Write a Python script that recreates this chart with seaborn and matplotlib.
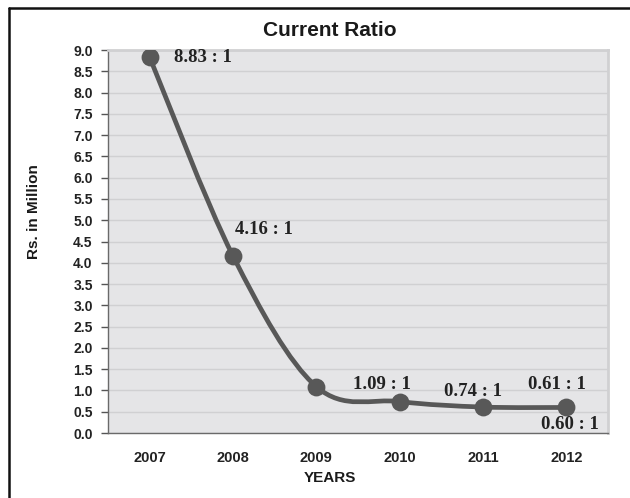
import matplotlib
matplotlib.use("Agg")
import matplotlib.pyplot as plt
from matplotlib.path import Path
from matplotlib.patches import PathPatch
from matplotlib.lines import Line2D
import seaborn as sns
import pandas as pd
import numpy as np

# Current ratio by year
years = ["2007", "2008", "2009", "2010", "2011", "2012"]
ratios = [8.83, 4.16, 1.09, 0.74, 0.61, 0.60]
labels = ["8.83 : 1", "4.16 : 1", "1.09 : 1", "0.74 : 1", "0.61 : 1", "0.60 : 1"]
label_offsets = [(53, 0), (31, 26), (66, 2), (73, 10), (74, 23), (4, -17)]  # pixels

sns.set_theme(style="white")
plt.rcParams["font.family"] = ["Liberation Sans", "DejaVu Sans"]

df = pd.DataFrame({"pos": np.arange(len(years)), "ratio": ratios})

fig = plt.figure(figsize=(6.30, 4.98), dpi=100)
ax = fig.add_axes([108 / 630, 1 - 433 / 498, 500 / 630, 383 / 498])
ax.set_facecolor("#e5e5e7")

line_color = "#585858"

# Smoothed connecting curve (Catmull-Rom as cubic Bezier segments)
pts = df[["pos", "ratio"]].to_numpy(dtype=float)
n = len(pts)
verts = [tuple(pts[0])]
codes = [Path.MOVETO]
for i in range(n - 1):
    p0 = pts[i - 1] if i > 0 else pts[i]
    p1 = pts[i]
    p2 = pts[i + 1]
    p3 = pts[i + 2] if i + 2 < n else pts[i + 1]
    c1 = p1 + (p2 - p0) / 6.0
    c2 = p2 - (p3 - p1) / 6.0
    verts += [tuple(c1), tuple(c2), tuple(p2)]
    codes += [Path.CURVE4] * 3
ax.add_patch(PathPatch(Path(verts, codes), facecolor="none", edgecolor=line_color,
                       lw=3.4, capstyle="round", joinstyle="round", zorder=3))

sns.scatterplot(data=df, x="pos", y="ratio", ax=ax, s=165, color=line_color,
                edgecolor=line_color, linewidth=0, zorder=4, legend=False)

for x, y, txt, (dx, dy) in zip(df["pos"], df["ratio"], labels, label_offsets):
    ax.annotate(txt, (x, y), xytext=(dx, dy), textcoords="offset pixels",
                ha="center", va="center", fontsize=13.5, fontweight="bold",
                family=["Liberation Serif", "DejaVu Serif"], color="#222222", zorder=5)

ax.set_xlim(-0.5, len(years) - 0.5)
ax.set_ylim(0, 9)
ax.set_yticks(np.arange(0, 9.01, 0.5))
ax.set_yticklabels([f"{v:.1f}" for v in np.arange(0, 9.01, 0.5)],
                   fontsize=10, fontweight="bold", color="#222222")
ax.yaxis.grid(True, color="#d0d0d2", lw=1.0)
ax.set_axisbelow(True)

ax.set_xticks(np.arange(len(years)))
ax.set_xticklabels(years, fontsize=10.5, fontweight="bold", color="#222222")
ax.set_xticks(np.arange(len(years) + 1) - 0.5, minor=True)
ax.tick_params(axis="x", which="major", length=0, pad=13)
ax.tick_params(axis="x", which="minor", length=5, width=1, color="#555555", direction="out")
ax.tick_params(axis="y", which="major", length=5, width=1, color="#555555",
               direction="out", pad=6, left=True)
ax.set_xlabel("")
ax.set_ylabel("")

for side in ("left", "bottom"):
    ax.spines[side].set_color("#6a6a6a")
    ax.spines[side].set_linewidth(1.0)
for side in ("top", "right"):
    ax.spines[side].set_color("#d0d0d2")
    ax.spines[side].set_linewidth(2.0)

fig.text(330 / 630, 1 - 30 / 498, "Current Ratio", ha="center", va="center",
         fontsize=15, fontweight="bold", color="#1a1a1a")
fig.text(330 / 630, 1 - 478 / 498, "YEARS", ha="center", va="center",
         fontsize=11, fontweight="bold", color="#1a1a1a")
fig.text(34 / 630, 1 - 212 / 498, "Rs. in Million", ha="center", va="center",
         rotation=90, fontsize=11, fontweight="bold", color="#1a1a1a")

# Outer frame (left and top edges)
fig.add_artist(Line2D([9 / 630, 9 / 630], [0, 1 - 8 / 498], transform=fig.transFigure,
                      color="#111111", lw=1.8))
fig.add_artist(Line2D([9 / 630, 1], [1 - 8 / 498, 1 - 8 / 498], transform=fig.transFigure,
                      color="#111111", lw=1.8))

fig.savefig("out.png", dpi=100, facecolor="white")
